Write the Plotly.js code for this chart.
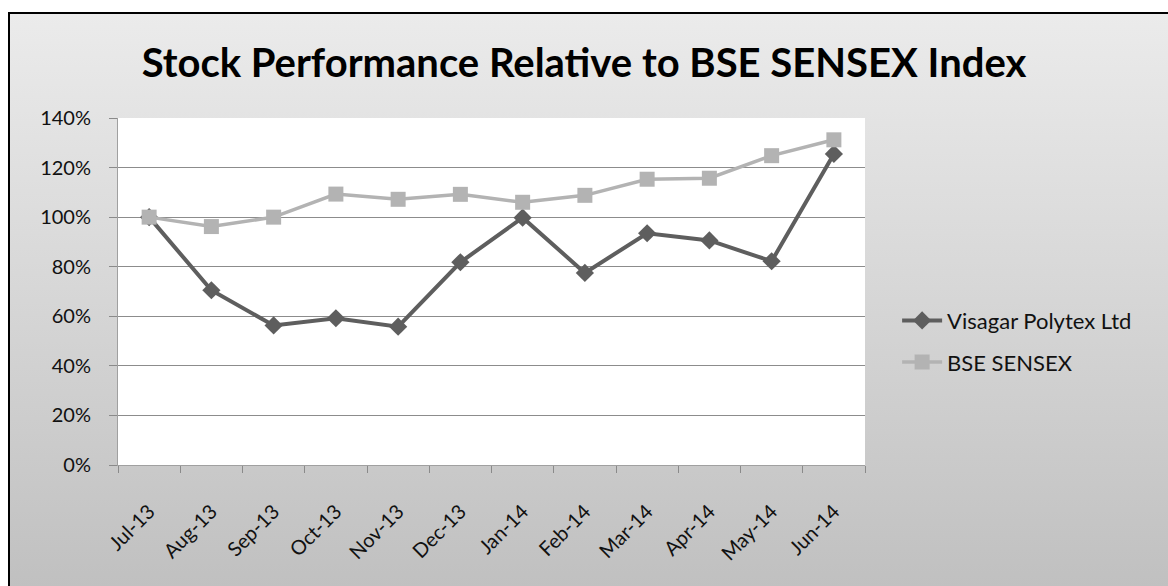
<!DOCTYPE html>
<html>
<head>
<meta charset="utf-8">
<script src="https://cdn.plot.ly/plotly-3.0.1.min.js"></script>
<style>
  html, body { margin: 0; padding: 0; background: #ffffff; }
  #bg { position: absolute; left: 8px; top: 12px; width: 1160px; height: 574px;
        border-left: 2px solid #000; border-top: 2px solid #000;
        background: linear-gradient(to bottom, #ebebeb 0%, #d6d6d6 50%, #c0c0c0 100%); }
  #chart { position: absolute; left: 0; top: 0; width: 1168px; height: 586px; }
</style>
</head>
<body>
<div id="bg"></div>
<div id="chart"></div>
<script>
const months = ["Jul-13","Aug-13","Sep-13","Oct-13","Nov-13","Dec-13","Jan-14","Feb-14","Mar-14","Apr-14","May-14","Jun-14"];
const visagar = [1.00, 0.705, 0.563, 0.592, 0.558, 0.818, 0.998, 0.775, 0.935, 0.906, 0.822, 1.255];
const sensex  = [1.00, 0.962, 1.000, 1.093, 1.072, 1.092, 1.060, 1.088, 1.153, 1.157, 1.248, 1.312];
const yTicks = [0, 0.2, 0.4, 0.6, 0.8, 1.0, 1.2, 1.4];
const yTickText = ["0%","20%","40%","60%","80%","100%","120%","140%"];

const font = "Lato, 'Open Sans', sans-serif";

const traces = [
  { x: months, y: visagar, name: "Visagar Polytex Ltd", type: "scatter", mode: "lines+markers",
    line: { color: "#5e5e5e", width: 4 },
    marker: { symbol: "diamond", size: 14, color: "#5e5e5e" },
    legend: "legend" },
  { x: months, y: sensex, name: "BSE SENSEX", type: "scatter", mode: "lines+markers",
    line: { color: "#b3b3b3", width: 3.5 },
    marker: { symbol: "square", size: 15, color: "#b3b3b3" },
    legend: "legend2" }
];

const legendCommon = { bgcolor: "rgba(0,0,0,0)", font: { family: font, size: 22, color: "#111" },
  xanchor: "left", yanchor: "middle", itemwidth: 40, tracegroupgap: 0 };

const layout = {
  width: 1168, height: 586,
  paper_bgcolor: "rgba(0,0,0,0)",
  plot_bgcolor: "#ffffff",
  margin: { l: 118, r: 303, t: 118, b: 121, pad: 0 },
  title: { text: "<b>Stock Performance Relative to BSE SENSEX Index</b>",
    font: { family: font, size: 40, color: "#000" },
    x: 0.5, xanchor: "center", y: 0.893, yanchor: "middle" },
  xaxis: { type: "category", tickson: "boundaries", ticks: "outside", ticklen: 7,
    tickcolor: "#8a8a8a", tickangle: -45, showgrid: false, ticklabelstandoff: 26,
    showline: true, linecolor: "#a0a0a0", linewidth: 1,
    tickfont: { family: font, size: 20, color: "#111" }, range: [-0.5, 11.5], fixedrange: true },
  yaxis: { range: [0, 1.4], tickvals: yTicks, ticktext: yTickText, ticks: "outside", ticklen: 8,
    tickcolor: "#8a8a8a", showgrid: true, gridcolor: "#8c8c8c", gridwidth: 1, ticklabelstandoff: 14,
    showline: true, linecolor: "#a0a0a0", linewidth: 1, zeroline: false,
    tickfont: { family: font, size: 20, color: "#111" } },
  showlegend: true,
  legend: Object.assign({ x: 1.043, y: 0.356 + 0.06 }, legendCommon),
  legend2: Object.assign({ x: 1.043, y: 0.356 - 0.06 }, legendCommon)
};

Plotly.newPlot("chart", traces, layout, { staticPlot: true });
</script>
</body>
</html>
